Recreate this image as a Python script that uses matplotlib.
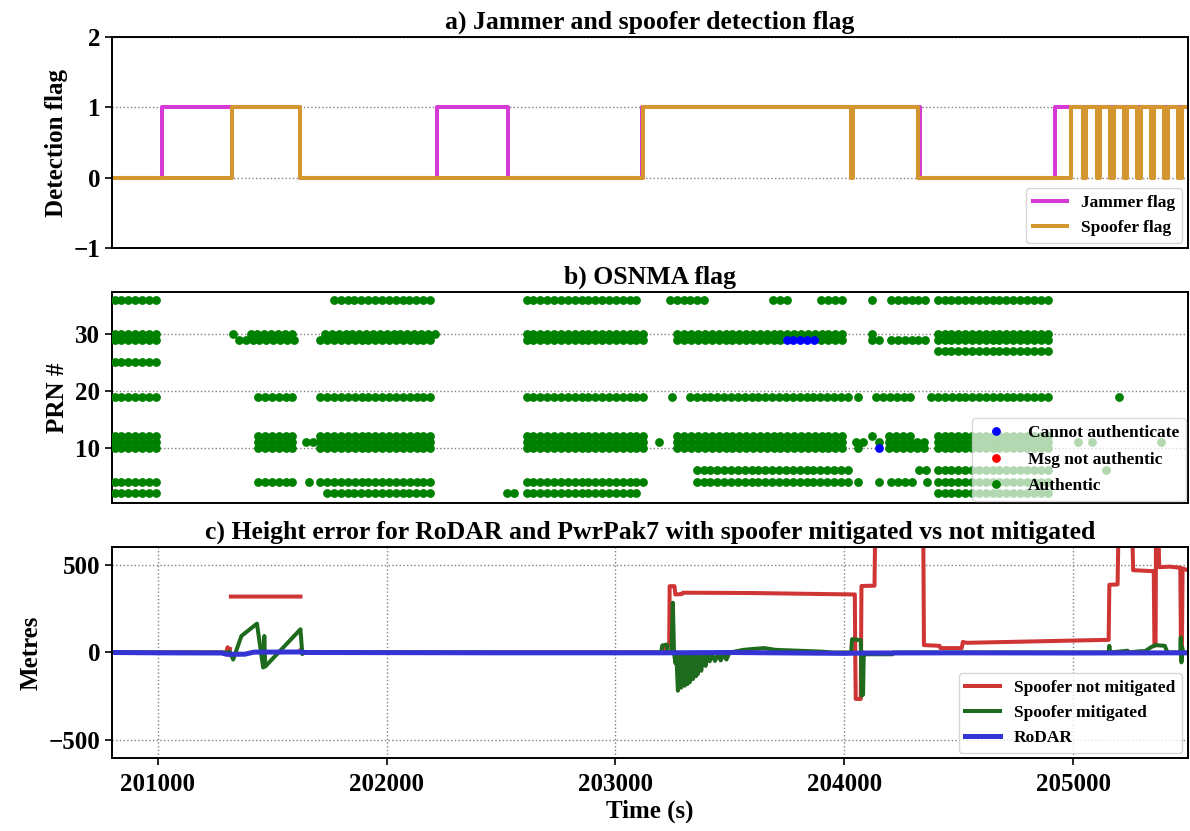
import numpy as np
import matplotlib
matplotlib.use('Agg')
from matplotlib import pyplot as plt

plt.rcParams['font.family'] = ['Liberation Serif', 'DejaVu Serif']
plt.rcParams['font.weight'] = 'bold'
plt.rcParams['axes.titleweight'] = 'bold'
plt.rcParams['axes.labelweight'] = 'bold'

# a) jammer / spoofer detection flags (change points, step 'post')
jam_t = [200800, 201021, 201623, 202221, 202530, 203115, 204330, 204921, 205500]
jam_v = [0, 1, 0, 1, 0, 1, 0, 1, 1]
spf_t = [200800, 201324, 201623, 203121, 204028, 204040, 204324, 204990,
         205042, 205057, 205102, 205117, 205162, 205177, 205220, 205235,
         205280, 205295, 205338, 205353, 205398, 205413, 205460, 205475, 205500]
spf_v = [0, 1, 0, 1, 0, 1, 0, 1,
         0, 1, 0, 1, 0, 1, 0, 1,
         0, 1, 0, 1, 0, 1, 0, 1, 1]

# b) OSNMA flag: runs of 30 s epochs per PRN (prn, first epoch, last epoch)
auth_runs = [
    (36, 200812, 201013), (36, 201770, 202213), (36, 202612, 203113), (36, 203238, 203413),
    (36, 203689, 203773), (36, 203898, 204015), (36, 204120, 204120), (36, 204204, 204364),
    (36, 204408, 204917),
    (30, 200812, 201013), (30, 201330, 201330), (30, 201406, 201614), (30, 201731, 202213),
    (30, 202612, 203146), (30, 203271, 204015), (30, 204120, 204120), (30, 204408, 204917),
    (29, 200812, 201013), (29, 201355, 201614), (29, 201711, 202213), (29, 202612, 203146),
    (29, 203271, 203740), (29, 203900, 204015), (29, 204120, 204153), (29, 204204, 204364),
    (29, 204408, 204917),
    (27, 204408, 204917),
    (25, 200812, 201013),
    (19, 200812, 201013), (19, 201439, 201614), (19, 201711, 202213), (19, 202612, 203146),
    (19, 203246, 203246), (19, 203325, 204015), (19, 204062, 204062), (19, 204139, 204313),
    (19, 204379, 204917), (19, 205201, 205201),
    (12, 200812, 201013), (12, 201439, 201614), (12, 201711, 202213), (12, 202612, 203146),
    (12, 203271, 204015), (12, 204121, 204121), (12, 204197, 204313), (12, 204408, 204917),
    (11, 200812, 201013), (11, 201439, 201614), (11, 201648, 201690), (11, 201711, 202213),
    (11, 202612, 203146), (11, 203191, 203191), (11, 203271, 204015), (11, 204051, 204095),
    (11, 204153, 204182), (11, 204197, 204372), (11, 204408, 204917), (11, 205021, 205021),
    (11, 205081, 205081), (11, 205382, 205382),
    (10, 200812, 201013), (10, 201439, 201614), (10, 201711, 202213), (10, 202612, 203146),
    (10, 203271, 204015), (10, 204062, 204062), (10, 204197, 204372), (10, 204408, 204917),
    (6, 203355, 204015), (6, 204328, 204372), (6, 204408, 204917), (6, 205143, 205143),
    (4, 200812, 201013), (4, 201439, 201614), (4, 201661, 201661), (4, 201711, 202213),
    (4, 202612, 203146), (4, 203355, 204015), (4, 204062, 204062), (4, 204150, 204150),
    (4, 204204, 204313), (4, 204362, 204362), (4, 204408, 204917),
    (2, 200812, 201013), (2, 201740, 202213), (2, 202525, 202567), (2, 202612, 203113),
    (2, 204408, 204917),
]
noauth_runs = [(29, 203748, 203890), (10, 204150, 204150)]
epoch = 30

# c) height error (m)
nan = np.nan
red_t = [200800, 201300, 201306, 201312, 201316, 201318, 201320, 201624, 201625, 201626, 201630,
         203212, 203222, 203235, 203237, 203258, 203262, 203290, 203295, 203600, 204040,
         204046, 204048, 204050, 204072, 204075, 204132, 204135, 204345, 204348, 204416,
         204420, 204513, 204518, 204535, 205155, 205158, 205194, 205198, 205258, 205262,
         205352, 205355, 205360, 205362, 205372, 205376, 205420, 205468, 205471, 205475,
         205478, 205500]
red_v = [0, 0, 30, -15, 20, nan, 318, 318, nan, 15, 0,
         0, 40, 40, 377, 377, 330, 332, 340, 338, 330,
         330, -30, -264, -264, 378, 380, 700, 700, 42, 38,
         25, 25, 60, 55, 72, 385, 387, 700, 700, 468,
         462, 40, 40, 700, 700, 485, 488, 482, 5, 5,
         478, 468]

grn_t = [200800, 201310, 201315, 201330, 201366, 201434, 201461, 201466, 201470, 201624,
         201632, 201640, 203200, 203205, 203225, 203228, 203245, 203251, 203256, 203262,
         203266, 203273, 203280, 203287, 203294, 203302, 203308, 203314, 203320, 203324,
         203331, 203339, 203346, 203352, 203356, 203360, 203367, 203375, 203384, 203394,
         203400, 203412, 203422, 203435, 203448, 203460, 203472, 203485, 203497, 203520,
         203560, 203600, 203650, 203700, 203800, 203900, 203950, 204030, 204034, 204072,
         204076, 204082, 204085, 204090, 204210, 204215, 205155, 205158, 205161, 205238,
         205240, 205303, 205306, 205340, 205360, 205400, 205412, 205468, 205470, 205473,
         205476, 205480, 205500]
grn_v = [0, 0, 5, -40, 94, 164, -85, 94, -80, 132,
         -9, 0, 0, 40, 45, 0, 0, 283, 0, -60,
         0, -217, -20, -200, -15, -189, -10, -180, -10, -170,
         -10, -151, -10, -135, -10, -123, -10, -104, -10, -76,
         -10, -50, -10, -48, -10, -45, -10, -40, -5, 5,
         15, 20, 25, 15, 10, 5, 0, 0, 76, 70,
         -245, -240, 0, -10, -10, 0, 0, 38, 0, 10,
         0, 8, 0, 30, 42, 38, 0, 0, 85, -56,
         30, 0, 0]

blue_t = [200800, 201000, 201280, 201300, 201380, 201420, 201620, 201650, 202500,
          203200, 203500, 204000, 204100, 204500, 205000, 205500]
blue_v = [0, -2, -3, -10, -10, 2, 3, 0, -2, -2, 0, -5, -3, -2, -3, -2]


def expand(runs):
    xs, ys = [], []
    for prn, t0, t1 in runs:
        for t in np.arange(t0, t1 + 1, epoch):
            xs.append(t)
            ys.append(prn)
    return xs, ys


fig, axes = plt.subplots(3, 1, figsize=(11.9, 8.31), dpi=100)
plt.subplots_adjust(left=0.094, right=0.998, top=0.9555, bottom=0.0878, hspace=0.208)
ax1, ax2, ax3 = axes
xlim = (200800, 205500)

for ax in axes:
    ax.set_xlim(xlim)
    for sp in ax.spines.values():
        sp.set_linewidth(1.4)
    ax.tick_params(labelsize=18, width=1.2, length=5)

# a)
ax1.step(jam_t, jam_v, where='post', color='#d63ad6', lw=2.9, label='Jammer flag')
ax1.step(spf_t, spf_v, where='post', color='#d4962f', lw=2.9, label='Spoofer flag')
ax1.set_ylim(-1, 2)
ax1.set_yticks([-1, 0, 1, 2])
ax1.grid(axis='y', linestyle=':', color='gray', lw=1)
ax1.tick_params(axis='x', bottom=False, labelbottom=False)
ax1.set_ylabel('Detection flag', fontsize=18)
ax1.set_title('a) Jammer and spoofer detection flag', fontsize=18.5)
ax1.legend(loc='lower right', fontsize=12.5, framealpha=0.8, borderaxespad=0.3)

# b)
gx, gy = expand(auth_runs)
bx, by = expand(noauth_runs)
ax2.plot(bx, by, 'o', color='blue', ms=5.3, zorder=4, label='Cannot authenticate')
ax2.plot([], [], 'o', color='red', ms=5.3, label='Msg not authentic')
ax2.plot(gx, gy, 'o', color='green', ms=5.3, zorder=3, label='Authentic')
ax2.set_ylim(0.25, 37.4)
ax2.set_yticks([10, 20, 30])
ax2.grid(axis='y', linestyle=':', color='gray', lw=1)
ax2.tick_params(axis='x', bottom=False, labelbottom=False)
ax2.set_ylabel('PRN #', fontsize=18)
ax2.set_title('b) OSNMA flag', fontsize=18.5)
ax2.legend(loc='lower right', fontsize=12.5, framealpha=0.7, handletextpad=0.8,
           borderaxespad=0.1, labelspacing=0.6)

# c)
ax3.plot(red_t, red_v, color='#d03535', lw=2.9, label='Spoofer not mitigated')
ax3.plot(grn_t, grn_v, color='#1e6b1e', lw=2.9, label='Spoofer mitigated')
ax3.plot(blue_t, blue_v, color='#3434d4', lw=3.6, label='RoDAR')
ax3.set_ylim(-600, 600)
ax3.set_yticks([-500, 0, 500])
ax3.set_xticks([201000, 202000, 203000, 204000, 205000])
ax3.tick_params(axis='x', pad=6)
ax3.grid(linestyle=':', color='gray', lw=1)
ax3.set_ylabel('Metres', fontsize=18)
ax3.set_xlabel('Time (s)', fontsize=18, labelpad=2)
ax3.set_title('c) Height error for RoDAR and PwrPak7 with spoofer mitigated vs not mitigated',
              fontsize=18.5)
ax3.legend(loc='lower right', fontsize=12.5, framealpha=0.8, borderaxespad=0.3)

plt.savefig('out.png', dpi=100)
